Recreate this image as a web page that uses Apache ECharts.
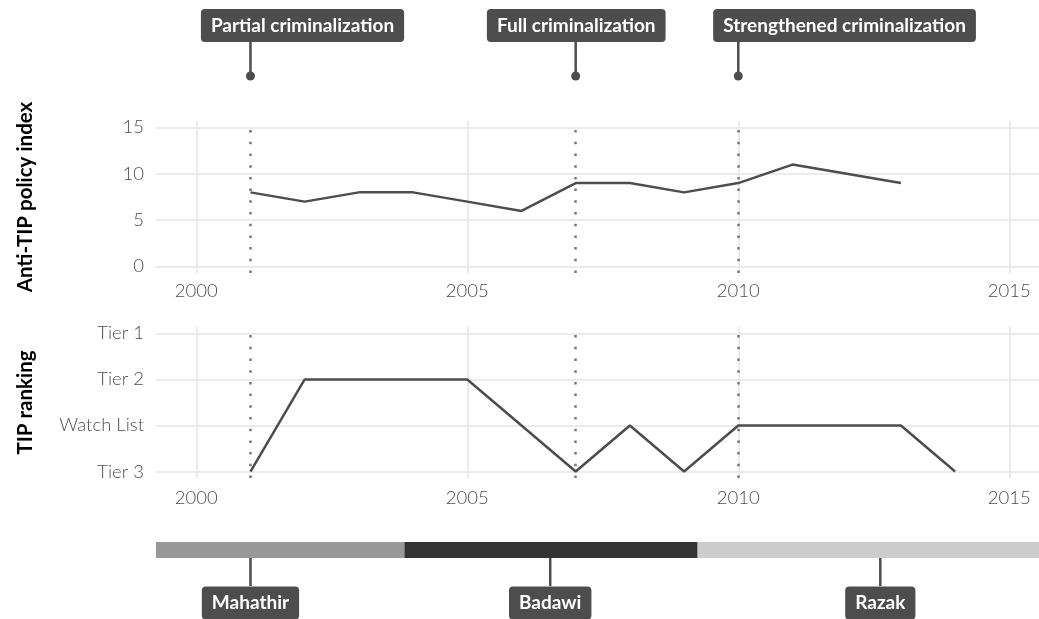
<!DOCTYPE html>
<html><head><meta charset="utf-8">
<script src="https://cdn.jsdelivr.net/npm/echarts@6/dist/echarts.min.js"></script>
<style>html,body{margin:0;padding:0;background:#fff}#c{width:1039px;height:619px}</style>
</head><body><div id="c"></div>
<script>
// ---- data ----
const policyYears = [2001, 2002, 2003, 2004, 2005, 2006, 2007, 2008, 2009, 2010, 2011, 2012, 2013];
const policyValues = [8, 7, 8, 8, 7, 6, 9, 9, 8, 9, 11, 10, 9];
const rankYears = [2001, 2002, 2003, 2004, 2005, 2006, 2007, 2008, 2009, 2010, 2011, 2012, 2013, 2014];
const rankValues = ['Tier 3', 'Tier 2', 'Tier 2', 'Tier 2', 'Tier 2', 'Watch List', 'Tier 3', 'Watch List', 'Tier 3', 'Watch List', 'Watch List', 'Watch List', 'Watch List', 'Tier 3'];
const tierLabels = ['Tier 3', 'Watch List', 'Tier 2', 'Tier 1'];
const xTicks = [2000, 2005, 2010, 2015];
const policyTicks = [0, 5, 10, 15];
const eventYears = [2001, 2007, 2010];
const eventLabels = ['Partial criminalization', 'Full criminalization', 'Strengthened criminalization'];
const eventLabelX = [2001.96, 2007.01, 2011.96];
const leaderNames = ['Mahathir', 'Badawi', 'Razak'];
const leaderStart = [1981.54, 2003.84, 2009.25];
const leaderEnd = [2003.84, 2009.25, 2018.36];
const leaderLabelX = [2001.0, 2006.53, 2012.62];

// ---- styling ----
const FONT = 'Lato, "Source Sans Pro", sans-serif';
const X_MIN = 1999.257, X_MAX = 2015.548;
const DARK = '#4d4d4d';
const leaderColors = ['#999999', '#333333', '#cccccc'];
const tierIndex = tierLabels.map((t, i) => i + 1);
const TICK_FS = 18.5;

const chart = echarts.init(document.getElementById('c'), null, { renderer: 'canvas' });

function xAxisFor(gi, show, margin) {
  return {
    type: 'value', gridIndex: gi, min: X_MIN, max: X_MAX, show: show,
    axisLine: { show: false },
    axisTick: { show: false, customValues: xTicks },
    axisLabel: { show: show, customValues: xTicks, formatter: v => String(v), color: DARK, fontFamily: FONT, fontSize: TICK_FS, fontWeight: 300, margin: margin },
    splitLine: { show: show, lineStyle: { color: '#ebebeb', width: 2 } }
  };
}

const markLineCfg = {
  silent: true, symbol: ['none', 'none'], animation: false,
  label: { show: false },
  emphasis: { disabled: true },
  lineStyle: { type: [2.5, 9.2], color: '#777777', width: 2.5 },
  data: eventYears.map(y => ({ xAxis: y }))
};

function labelBox(text, x, y) {
  return {
    type: 'text', x: x, y: y,
    style: {
      text: text, align: 'center', verticalAlign: 'middle', fill: '#ffffff',
      fontFamily: FONT, fontWeight: 'bold', fontSize: 19, lineHeight: 19,
      backgroundColor: DARK, padding: [7, 10, 7, 10], borderRadius: 4
    }
  };
}

const option = {
  animation: false,
  backgroundColor: '#ffffff',
  grid: [
    { left: 156, right: 0, top: 121, height: 152 },
    { left: 156, right: 0, top: 327, height: 151 },
    { left: 156, right: 0, top: 0, height: 619 }
  ],
  xAxis: [xAxisFor(0, true, 9), xAxisFor(1, true, 11), xAxisFor(2, false, 8)],
  yAxis: [
    {
      type: 'value', gridIndex: 0, min: -0.7, max: 15.7,
      axisLine: { show: false }, axisTick: { show: false, customValues: policyTicks },
      axisLabel: { customValues: policyTicks, color: DARK, fontFamily: FONT, fontSize: TICK_FS, fontWeight: 300, margin: 12 },
      splitLine: { show: true, lineStyle: { color: '#ebebeb', width: 2 } },
      name: 'Anti-TIP policy index', nameLocation: 'middle', nameGap: 120,
      nameTextStyle: { fontFamily: FONT, fontWeight: 'bold', fontSize: 20.5, color: '#000000' }
    },
    {
      type: 'value', gridIndex: 1, min: 0.86, max: 4.14,
      axisLine: { show: false }, axisTick: { show: false, customValues: tierIndex },
      axisLabel: { customValues: tierIndex, formatter: v => tierLabels[Math.round(v) - 1], color: DARK, fontFamily: FONT, fontSize: TICK_FS, fontWeight: 300, margin: 12 },
      splitLine: { show: true, lineStyle: { color: '#ebebeb', width: 2 } },
      name: 'TIP ranking', nameLocation: 'middle', nameGap: 120,
      nameTextStyle: { fontFamily: FONT, fontWeight: 'bold', fontSize: 20.5, color: '#000000' }
    },
    { type: 'value', gridIndex: 2, min: 0, max: 619, inverse: true, show: false }
  ],
  series: [
    {
      type: 'line', xAxisIndex: 0, yAxisIndex: 0, showSymbol: false, silent: true,
      lineStyle: { color: DARK, width: 2.5 },
      data: policyYears.map((y, i) => [y, policyValues[i]]),
      markLine: markLineCfg
    },
    {
      type: 'line', xAxisIndex: 1, yAxisIndex: 1, showSymbol: false, silent: true,
      lineStyle: { color: DARK, width: 2.5 },
      data: rankYears.map((y, i) => [y, tierLabels.indexOf(rankValues[i]) + 1]),
      markLine: markLineCfg
    },
    {
      type: 'custom', xAxisIndex: 2, yAxisIndex: 2, silent: true,
      data: eventYears.map((y, i) => [y, eventLabelX[i], i]),
      renderItem: (params, api) => {
        const x = api.value(0), lx = api.value(1), i = api.value(2);
        const top = api.coord([x, 42]);
        const dot = api.coord([x, 76]);
        const lab = api.coord([lx, 25.5]);
        return {
          type: 'group', children: [
            { type: 'line', shape: { x1: top[0], y1: top[1], x2: dot[0], y2: dot[1] }, style: { stroke: DARK, lineWidth: 2.5 } },
            { type: 'circle', shape: { cx: dot[0], cy: dot[1], r: 4.5 }, style: { fill: DARK } },
            labelBox(eventLabels[i], lab[0], lab[1])
          ]
        };
      }
    },
    {
      type: 'custom', xAxisIndex: 2, yAxisIndex: 2, silent: true,
      data: leaderNames.map((n, i) => [leaderStart[i], leaderEnd[i], leaderLabelX[i], i]),
      renderItem: (params, api) => {
        const cs = params.coordSys;
        const s = api.value(0), e = api.value(1), lx = api.value(2), i = api.value(3);
        const p1 = api.coord([s, 542]);
        const p2 = api.coord([e, 558]);
        const x1 = Math.max(p1[0], cs.x), x2 = Math.min(p2[0], cs.x + cs.width);
        const lt = api.coord([lx, 558]);
        const lb = api.coord([lx, 586]);
        const lab = api.coord([lx, 603]);
        return {
          type: 'group', children: [
            { type: 'rect', shape: { x: x1, y: p1[1], width: x2 - x1, height: p2[1] - p1[1] }, style: { fill: leaderColors[i] } },
            { type: 'line', shape: { x1: lt[0], y1: lt[1], x2: lb[0], y2: lb[1] }, style: { stroke: DARK, lineWidth: 2.5 } },
            labelBox(leaderNames[i], lab[0], lab[1])
          ]
        };
      }
    }
  ]
};
chart.setOption(option);
</script>
</body></html>
